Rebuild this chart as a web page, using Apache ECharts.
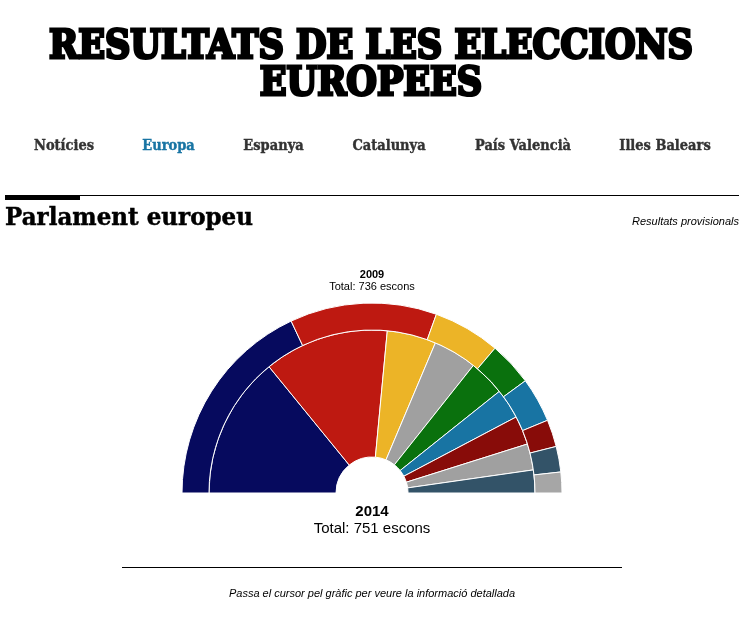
<!DOCTYPE html>
<html>
<head>
<meta charset="utf-8">
<style>
  html, body { margin: 0; padding: 0; background: #fff; }
  #chart { width: 752px; height: 624px; }
</style>
<script src="https://cdn.jsdelivr.net/npm/echarts@6/dist/echarts.min.js"></script>
</head>
<body>
<div id="chart"></div>
<script>
// escons 2014 (anell interior)
const groups2014 = ['PPE', 'S&D', 'ALDE', 'Nous', 'Verds/ALE', 'ECR', 'GUE/NGL', 'NI', 'EFD']
const seats2014 = [212, 186, 73, 65, 54, 45, 43, 39, 34]
const colors2014 = ['#060a5e', '#be1911', '#ecb427', '#a0a0a0', '#0a710d', '#1874a3', '#880c09', '#a0a0a0', '#335368']

// escons 2009 (anell exterior)
const groups2009 = ['PPE', 'S&D', 'ALDE', 'Verds/ALE', 'ECR', 'GUE/NGL', 'EFD', 'NI']
const seats2009 = [265, 184, 84, 55, 56, 34, 32, 26]
const colors2009 = ['#060a5e', '#be1911', '#ecb427', '#0a710d', '#1874a3', '#880c09', '#335368', '#a6a6a6']

const navItems = ['Notícies', 'Europa', 'Espanya', 'Catalunya', 'País Valencià', 'Illes Balears']
const navX = [64, 168.5, 273.5, 389, 523, 665]

const serif = '"DejaVu Serif", serif'
const sans = '"Liberation Sans", Arial, sans-serif'

function toSlices(names, values, colors) {
  return names.map((name, i) => ({ name, value: values[i], itemStyle: { color: colors[i] } }))
}

function ring(name, radius, names, values, colors) {
  return {
    type: 'pie',
    name,
    center: [372, 493],
    radius,
    startAngle: 180,
    endAngle: 0,
    label: { show: false },
    labelLine: { show: false },
    itemStyle: { borderColor: '#fff', borderWidth: 1 },
    data: toSlices(names, values, colors),
  }
}

function text(x, y, str, font, fill, align, extra) {
  const { scaleX, stroke, lineWidth } = extra || {}
  return {
    type: 'text',
    x,
    y,
    scaleX: scaleX || 1,
    style: {
      text: str,
      font,
      fill: fill || '#000',
      align: align || 'center',
      verticalAlign: 'middle',
      stroke: stroke || null,
      lineWidth: lineWidth || 0,
    },
  }
}

const titleLook = { scaleX: 0.9, stroke: '#000', lineWidth: 3 }

const graphics = [
  // capçalera
  text(371, 47.5, 'RESULTATS DE LES ELECCIONS', `700 39px ${serif}`, '#000', 'center', titleLook),
  text(371, 85, 'EUROPEES', `700 39px ${serif}`, '#000', 'center', titleLook),
  // línies
  { type: 'rect', shape: { x: 5, y: 195, width: 734, height: 1 }, style: { fill: '#000' } },
  { type: 'rect', shape: { x: 5, y: 195, width: 75, height: 5 }, style: { fill: '#000' } },
  { type: 'rect', shape: { x: 122, y: 567, width: 500, height: 1 }, style: { fill: '#000' } },
  // textos
  text(5, 218, 'Parlament europeu', `700 25px ${serif}`, '#000', 'left', { scaleX: 0.92, stroke: '#000', lineWidth: 0.5 }),
  text(739, 222, 'Resultats provisionals', `italic 11px ${sans}`, '#000', 'right'),
  text(372, 275, '2009', `700 11px ${sans}`),
  text(372, 287, 'Total: 736 escons', `11px ${sans}`),
  text(372, 512, '2014', `700 15px ${sans}`),
  text(372, 529, 'Total: 751 escons', `15px ${sans}`),
  text(372, 594, 'Passa el cursor pel gràfic per veure la informació detallada', `italic 11px ${sans}`),
].concat(navItems.map((item, i) =>
  text(navX[i], 146, item, `700 14px ${serif}`, item === 'Europa' ? '#1874a3' : '#333', 'center', {
    scaleX: 0.93,
    stroke: item === 'Europa' ? '#1874a3' : '#333',
    lineWidth: 0.4,
  })
))

const chart = echarts.init(document.getElementById('chart'), null, { renderer: 'canvas' })
chart.setOption({
  animation: false,
  backgroundColor: '#fff',
  tooltip: { trigger: 'item', formatter: '{a}<br/>{b}: {c} escons' },
  graphic: { elements: graphics },
  series: [
    ring('2014', [36, 163], groups2014, seats2014, colors2014),
    ring('2009', [163, 190], groups2009, seats2009, colors2009),
  ],
})
</script>
</body>
</html>
